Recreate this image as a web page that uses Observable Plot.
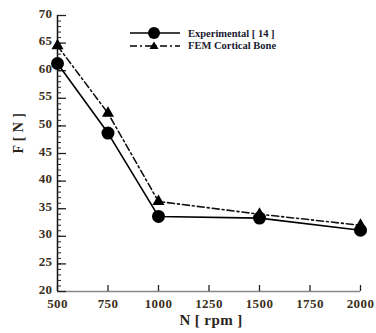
<!DOCTYPE html>
<html><head><meta charset="utf-8">
<script src="https://cdn.jsdelivr.net/npm/d3@7"></script>
<script src="https://cdn.jsdelivr.net/npm/@observablehq/plot@0.6"></script>
<style>
body{margin:0;background:#fff;}
#wrap{position:relative;width:376px;height:333px;}
#legend{position:absolute;left:128px;top:27px;font:bold 10.5px "Liberation Serif","Times New Roman",serif;color:#1a1a30;}
#legend div{display:flex;align-items:center;height:12.5px;}
#legend svg{margin-right:6px;}
</style></head>
<body><div id="wrap"><div id="chart"></div>
<div id="legend">
<div><svg width="54" height="14"><line x1="2" x2="52" y1="7" y2="7" stroke="#000" stroke-width="1.6"/><circle cx="26" cy="7" r="6" fill="#000"/></svg>Experimental [ 14 ]</div>
<div><svg width="54" height="14"><line x1="2" x2="52" y1="7" y2="7" stroke="#000" stroke-width="1.6" stroke-dasharray="7,3,2,3"/><path d="M26,2.5L30.5,10H21.5Z" fill="#000"/></svg>FEM Cortical Bone</div>
</div></div>
<script>
const speeds = [500, 750, 1000, 1500, 2000];
const experimental = [61.3, 48.7, 33.6, 33.3, 31.1];
const fem = [64.5, 52.3, 36.3, 34.0, 32.0];
const xTicks = [500, 750, 1000, 1250, 1500, 1750, 2000];
const yTicks = [20, 25, 30, 35, 40, 45, 50, 55, 60, 65, 70];
const yMinor = d3.range(20, 71, 1);

const expData = speeds.map((n, i) => ({n, f: experimental[i]}));
const femData = speeds.map((n, i) => ({n, f: fem[i]}));
const font = "'Liberation Serif', 'Times New Roman', serif";
const chart = Plot.plot({
  width: 376, height: 333,
  marginLeft: 57, marginRight: 16, marginTop: 15, marginBottom: 42,
  style: {fontFamily: font, fontWeight: "bold", fontSize: "13px", color: "#3a2e20", background: "#fff", letterSpacing: "0.4px"},
  x: {domain: [500, 2000], label: null},
  y: {domain: [20, 70], label: null},
  marks: [
    Plot.ruleY([20], {stroke: "#888", strokeWidth: 1.5}),
    Plot.ruleX([500], {stroke: "#111", strokeWidth: 1.5}),
    Plot.axisY(yMinor, {tickSize: -4, text: null, stroke: "#222", label: null}),
    Plot.axisY(yTicks, {tickSize: -9, text: null, stroke: "#222", strokeWidth: 1.3, label: null}),
    Plot.axisY(yTicks, {tickSize: 0, tickPadding: 5, dy: -2, label: null, fontSize: 13, tickFormat: "d"}),
    Plot.axisX(xTicks, {tickSize: -6, text: null, stroke: "#222", strokeWidth: 1.3, label: null}),
    Plot.axisX(xTicks, {tickSize: 0, tickPadding: 7, label: null, fontSize: 13, tickFormat: "d"}),
    Plot.line(femData, {x: "n", y: "f", stroke: "#111", strokeWidth: 1.6, strokeDasharray: "7,3,2,3"}),
    Plot.line(expData, {x: "n", y: "f", stroke: "#000", strokeWidth: 1.6}),
    Plot.dot(femData, {x: "n", y: "f", symbol: "triangle", r: 4.5, fill: "#000"}),
    Plot.dot(expData, {x: "n", y: "f", r: 6.5, fill: "#000"}),
    Plot.text(["F [ N ]"], {frameAnchor: "left", dx: -39, rotate: -90, fontSize: 14, fontWeight: "bold", fill: "#2a2418"}),
    Plot.text(["N [ rpm ]"], {frameAnchor: "bottom", dy: 33, dx: 2, fontSize: 15, fontWeight: "bold", fill: "#2a2418"})
  ]
});
document.getElementById("chart").appendChild(chart);
</script></body></html>
